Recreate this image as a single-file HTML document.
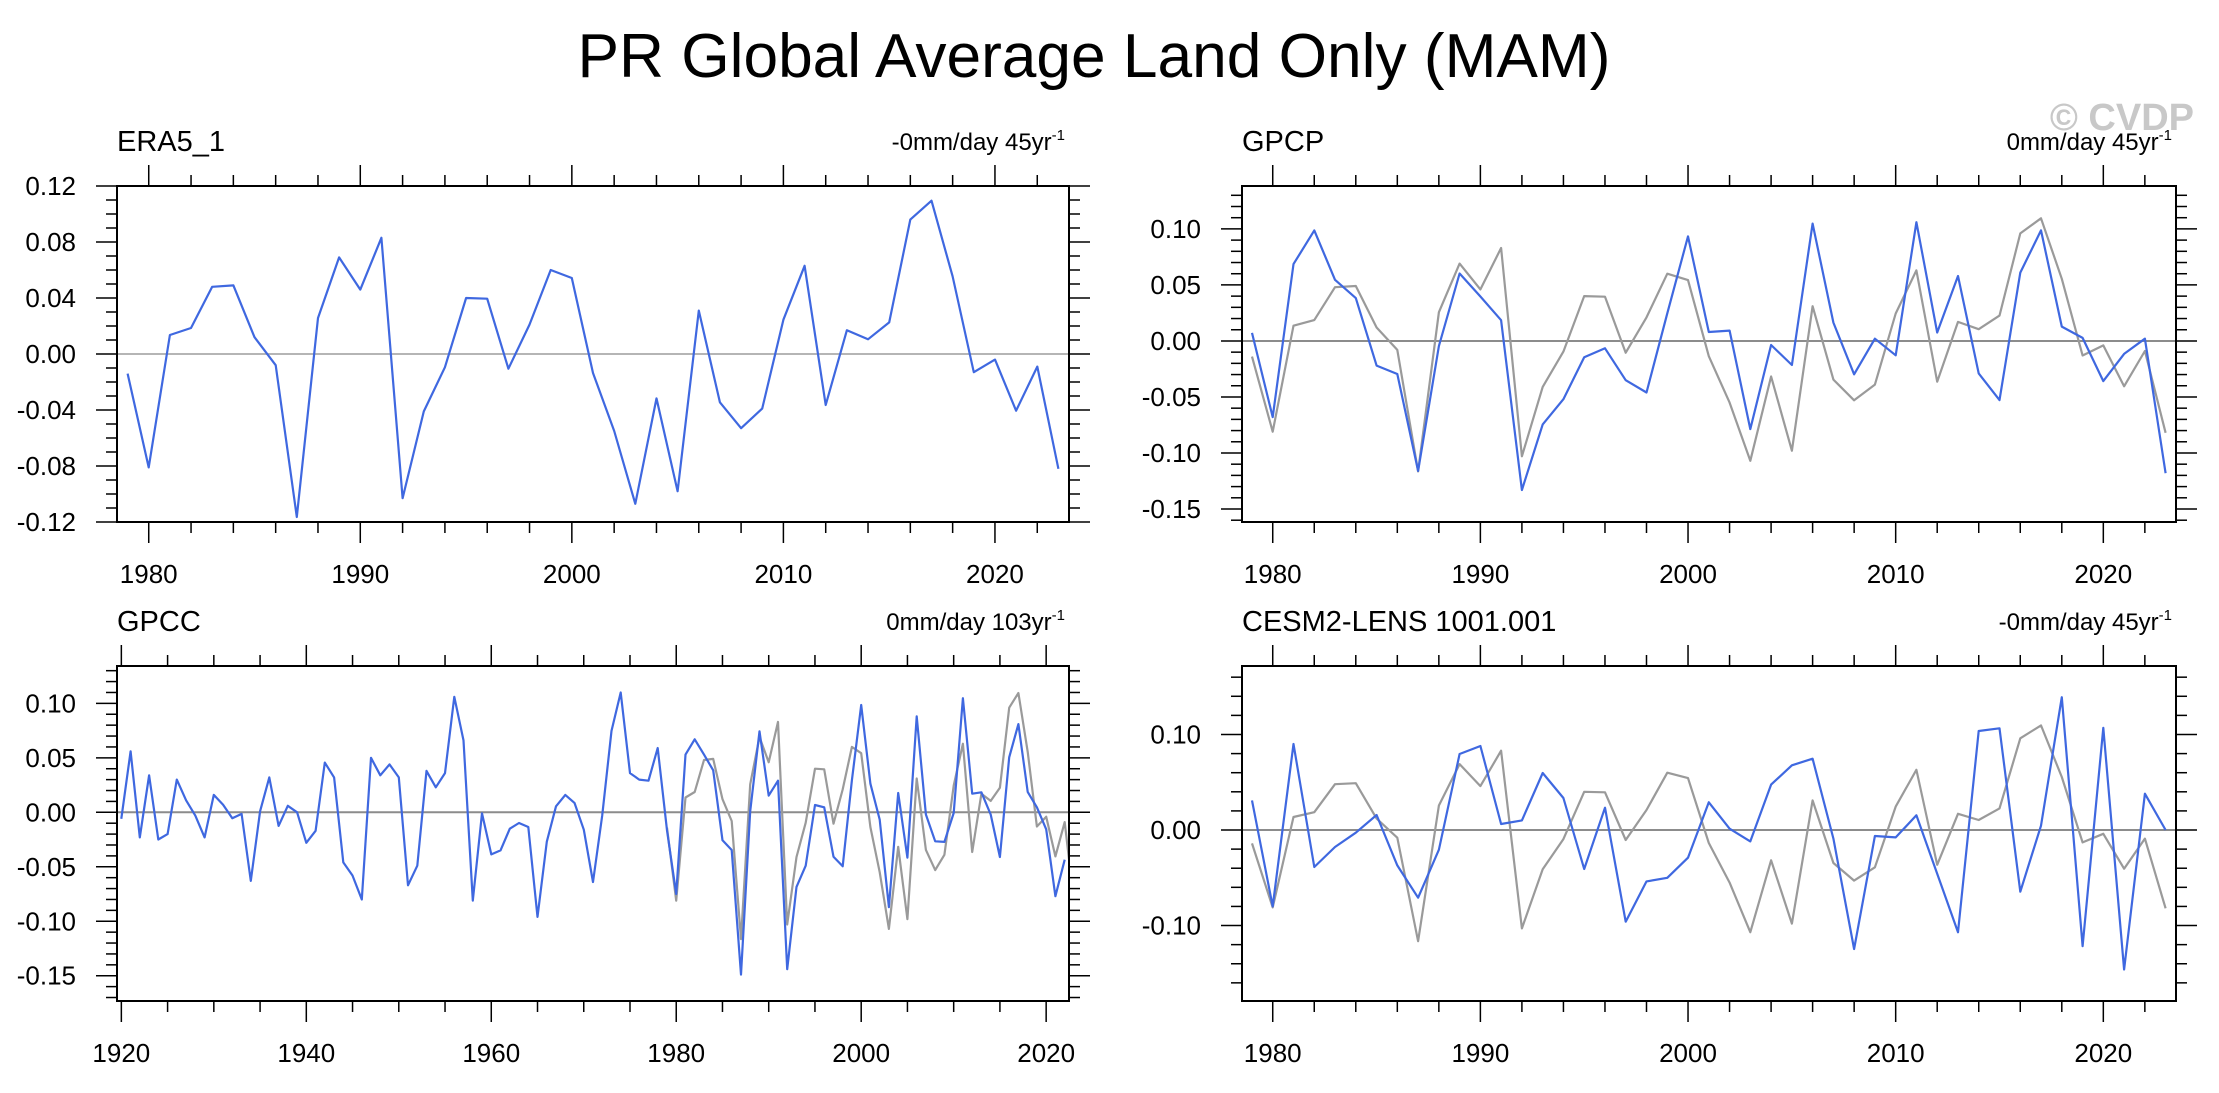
<!DOCTYPE html>
<html><head><meta charset="utf-8"><style>
html,body{margin:0;padding:0;background:#fff;}
svg{display:block;font-family:"Liberation Sans",Arial,sans-serif;}
</style></head><body>
<svg id="fig" width="2219" height="1093" viewBox="0 0 2219 1093" xmlns="http://www.w3.org/2000/svg">
<rect width="2219" height="1093" fill="#fff"/>
<text x="1094" y="77" font-size="62" text-anchor="middle" textLength="1033" lengthAdjust="spacingAndGlyphs">PR Global Average Land Only (MAM)</text>
<text x="2194" y="130" font-size="38" font-weight="bold" fill="#c8c8c8" text-anchor="end">© CVDP</text>
</svg>
<script>
const era5Years = [1979,2023];
const era5Values = [-0.014,-0.081,0.0136,0.0186,0.048,0.049,0.012,-0.008,-0.1164,0.0257,0.069,0.046,0.083,-0.103,-0.041,-0.0095,0.040,0.0395,-0.0105,0.021,0.060,0.0543,-0.0136,-0.055,-0.107,-0.0317,-0.098,0.031,-0.0345,-0.053,-0.039,0.0245,0.063,-0.0364,0.017,0.0105,0.0226,0.096,0.1095,0.0555,-0.013,-0.004,-0.0405,-0.009,-0.082];
const gpcpValues = [0.0072,-0.068,0.0686,0.0987,0.0546,0.0382,-0.022,-0.0295,-0.116,-0.0045,0.0602,0.0397,0.0185,-0.133,-0.0745,-0.052,-0.0146,-0.0066,-0.035,-0.046,0.0247,0.0933,0.008,0.0092,-0.0787,-0.0036,-0.0215,0.1047,0.0164,-0.0298,0.002,-0.0128,0.106,0.0075,0.058,-0.029,-0.0528,0.061,0.0987,0.0128,0.0027,-0.0358,-0.0116,0.002,-0.118];
const gpccStartYear = 1920;
const gpccValues = [-0.006,0.056,-0.023,0.034,-0.025,-0.020,0.030,0.011,-0.003,-0.023,0.016,0.007,-0.0055,-0.0015,-0.063,0.001,0.032,-0.0125,0.006,0,-0.028,-0.017,0.0456,0.032,-0.046,-0.058,-0.080,0.050,0.034,0.044,0.032,-0.067,-0.049,0.038,0.023,0.036,0.106,0.066,-0.081,-0.001,-0.0386,-0.035,-0.015,-0.0098,-0.0135,-0.096,-0.027,0.0055,0.016,0.0086,-0.016,-0.064,-0.003,0.0747,0.110,0.036,0.030,0.029,0.059,-0.0165,-0.075,0.053,0.067,0.053,0.0386,-0.0257,-0.0346,-0.149,0.001,0.0744,0.0153,0.029,-0.144,-0.0685,-0.049,0.0067,0.0046,-0.0407,-0.0496,0.0294,0.0985,0.0263,-0.0067,-0.087,0.0177,-0.0416,0.088,-0.002,-0.0266,-0.0272,-0.0006,0.1047,0.0171,0.0184,-0.002,-0.041,0.0505,0.081,0.0187,0.0046,-0.0156,-0.077,-0.0435];
const cesmValues = [0.031,-0.080,0.090,-0.0387,-0.0178,-0.0028,0.0157,-0.037,-0.0709,-0.0206,0.0796,0.088,0.0063,0.0101,0.0597,0.0335,-0.0408,0.0234,-0.096,-0.0538,-0.050,-0.029,0.029,0.0014,-0.0119,0.0475,0.0677,0.0747,-0.009,-0.1246,-0.0063,-0.0077,0.0154,-0.0457,-0.107,0.1037,0.1065,-0.0646,0.0045,0.139,-0.1215,0.107,-0.146,0.038,0.000];
const era5TickLabels = ["-0.12","-0.08","-0.04","0.00","0.04","0.08","0.12"];
const gpcpTickLabels = ["-0.15","-0.10","-0.05","0.00","0.05","0.10"];
const cesmTickLabels = ["-0.10","0.00","0.10"];
const xTickLabelsShort = ["1980","1990","2000","2010","2020"];
const xTickLabelsLong = ["1920","1940","1960","1980","2000","2020"];

const NS="http://www.w3.org/2000/svg";
const svg=document.getElementById('fig');
function mk(tag,attrs,parent){const e=document.createElementNS(NS,tag);for(const k in attrs)e.setAttribute(k,attrs[k]);(parent||svg).appendChild(e);return e;}

function panel(p){
  const g=mk('g',{});
  
  
  const X=v=>p.L+(v-p.x0)/(p.x1-p.x0)*(p.R-p.L);
  const Y=v=>p.B-(v-p.y0)/(p.y1-p.y0)*(p.B-p.T);
  const clip='clip-'+p.name;
  const cp=mk('clipPath',{id:clip},g);
  mk('rect',{x:p.L,y:p.T,width:p.R-p.L,height:p.B-p.T},cp);
  const zl=mk('line',{x1:p.L,x2:p.R,y1:Y(0),y2:Y(0),stroke:p.zeroColor,'stroke-width':2},g);
  
  
  p.series.forEach(s=>{
    let d='';
    s.values.forEach((v,i)=>{d+=(i?'L':'M')+X(s.start+i).toFixed(1)+','+Y(v).toFixed(1);});
    const path=mk('path',{d:d,fill:'none',stroke:s.color,'stroke-width':2.2,'stroke-linejoin':'round','clip-path':'url(#'+clip+')'},g);
    
    
  });
  const fr=mk('rect',{x:p.L,y:p.T,width:p.R-p.L,height:p.B-p.T,fill:'none',stroke:'#000','stroke-width':2},g);
  
  
  for(let yr=Math.ceil(p.x0);yr<=p.x1;yr++){
    if(yr%p.xMinor)continue;
    const maj=yr%p.xMajor===0, len=maj?21:11, x=X(yr);
    mk('line',{x1:x,x2:x,y1:p.B,y2:p.B+len,stroke:'#000','stroke-width':1.5},g);
    mk('line',{x1:x,x2:x,y1:p.T,y2:p.T-len,stroke:'#000','stroke-width':1.5},g);
  }
  p.xLabels.forEach(lb=>{
    const t=mk('text',{x:X(+lb),y:p.B+61,'font-size':26,'text-anchor':'middle'},g);
    t.textContent=lb;
    
    
  });
  const n0=Math.ceil(p.y0/p.yMinor-1e-6), n1=Math.floor(p.y1/p.yMinor+1e-6);
  for(let n=n0;n<=n1;n++){
    const v=n*p.yMinor, y=Y(v);
    const maj=Math.abs(v/p.yMajor-Math.round(v/p.yMajor))<1e-6, len=maj?21:11;
    mk('line',{x1:p.L,x2:p.L-len,y1:y,y2:y,stroke:'#000','stroke-width':1.5},g);
    mk('line',{x1:p.R,x2:p.R+len,y1:y,y2:y,stroke:'#000','stroke-width':1.5},g);
  }
  p.yLabels.forEach(lb=>{
    const t=mk('text',{x:p.L-41,y:Y(+lb)+9,'font-size':26,'text-anchor':'end'},g);
    t.textContent=lb;
    
    
  });
  const ti=mk('text',{x:p.L,y:p.T-35,'font-size':29},g);
  ti.textContent=p.title;
  
  
  const st=mk('text',{x:p.R-4,y:p.T-36,'font-size':24,'text-anchor':'end'},g);
  
  
  const t1=mk('tspan',{},st); t1.textContent=p.trend;
  const t2=mk('tspan',{dy:-10,'font-size':15},st); t2.textContent='-1';
}
const BLUE='#3f68e0', GRAY='#9a9a9a';
panel({name:'era5-panel',title:'ERA5_1',trend:'-0mm/day 45yr',L:117,R:1069,T:186,B:522,x0:1978.5,x1:2023.5,y0:-0.12,y1:0.12,
  xMinor:2,xMajor:10,yMinor:0.01,yMajor:0.04,xLabels:xTickLabelsShort,yLabels:era5TickLabels,zeroColor:'#b5b5b5',
  series:[{name:'era5-line',values:era5Values,start:era5Years[0],color:BLUE}]});
panel({name:'gpcp-panel',title:'GPCP',trend:'0mm/day 45yr',L:1242,R:2176,T:186,B:522,x0:1978.52,x1:2023.5,y0:-0.1616,y1:0.1383,
  xMinor:2,xMajor:10,yMinor:0.01,yMajor:0.05,xLabels:xTickLabelsShort,yLabels:gpcpTickLabels,zeroColor:'#8c8c8c',
  series:[{name:'era5-reference-line',values:era5Values,start:era5Years[0],color:GRAY},{name:'gpcp-line',values:gpcpValues,start:era5Years[0],color:BLUE}]});
panel({name:'gpcc-panel',title:'GPCC',trend:'0mm/day 103yr',L:117,R:1069,T:666,B:1001,x0:1919.53,x1:2022.47,y0:-0.1732,y1:0.1343,
  xMinor:5,xMajor:20,yMinor:0.01,yMajor:0.05,xLabels:xTickLabelsLong,yLabels:gpcpTickLabels,zeroColor:'#8c8c8c',
  series:[{name:'era5-reference-line',values:era5Values,start:era5Years[0],color:GRAY},{name:'gpcc-line',values:gpccValues,start:gpccStartYear,color:BLUE}]});
panel({name:'cesm-panel',title:'CESM2-LENS 1001.001',trend:'-0mm/day 45yr',L:1242,R:2176,T:666,B:1001,x0:1978.52,x1:2023.5,y0:-0.179,y1:0.1717,
  xMinor:2,xMajor:10,yMinor:0.02,yMajor:0.1,xLabels:xTickLabelsShort,yLabels:cesmTickLabels,zeroColor:'#8c8c8c',
  series:[{name:'era5-reference-line',values:era5Values,start:era5Years[0],color:GRAY},{name:'cesm-line',values:cesmValues,start:era5Years[0],color:BLUE}]});
</script>
</body></html>
